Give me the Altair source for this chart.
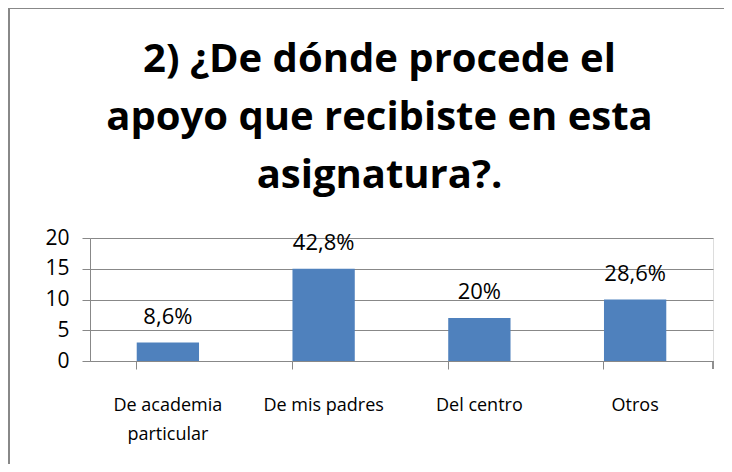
import altair as alt
import pandas as pd

categories = ["De academia particular", "De mis padres", "Del centro", "Otros"]
values = [3, 15, 7, 10]
pct_labels = ["8,6%", "42,8%", "20%", "28,6%"]
title_lines = ["2) ¿De dónde procede el", "apoyo que recibiste en esta", "asignatura?."]
y_ticks = [0, 5, 10, 15, 20]

df = pd.DataFrame({"cat": categories, "val": values, "lab": pct_labels})

FONT = "Open Sans"
W, H = 623, 123

x_enc = alt.X(
    "cat:N",
    sort=categories,
    title=None,
    scale=alt.Scale(paddingInner=0.6, paddingOuter=0.3),
    axis=alt.Axis(
        labelAngle=0,
        labelFont=FONT,
        labelFontSize=18,
        labelColor="#000000",
        labelPadding=27,
        labelLineHeight=29,
        labelBaseline="top",
        labelExpr="datum.label == 'De academia particular' ? ['De academia', 'particular'] : datum.label",
        bandPosition=0,
        tickSize=8,
        tickColor="#888888",
        domainColor="#888888",
        grid=False,
    ),
)

y_enc = alt.Y(
    "val:Q",
    title=None,
    scale=alt.Scale(domain=[0, 20]),
    axis=alt.Axis(
        values=y_ticks,
        tickCount=5,
        labelOverlap=False,
        labelFont=FONT,
        labelFontSize=21,
        labelColor="#000000",
        labelPadding=13,
        tickSize=8,
        tickColor="#888888",
        domainColor="#888888",
        gridColor="#888888",
        gridOpacity=1,
    ),
)

bars = alt.Chart(df).mark_bar(color="#4F81BD").encode(x=x_enc, y=y_enc)

texts = alt.Chart(df).mark_text(
    font=FONT, fontSize=22, color="#000000", baseline="alphabetic", dy=-19
).encode(x=x_enc, y=y_enc, text="lab:N")

end_tick = alt.Chart(df).mark_rule(color="#888888").encode(
    x=alt.value(W), y=alt.value(H), y2=alt.value(H + 8)
)

frame_top = alt.Chart(df).mark_rule(color="#888888", strokeWidth=2).encode(
    x=alt.value(-82), x2=alt.value(W + 40), y=alt.value(-230)
)
frame_left = alt.Chart(df).mark_rule(color="#888888", strokeWidth=2).encode(
    x=alt.value(-81), y=alt.value(-231), y2=alt.value(H + 120)
)

chart = alt.layer(frame_top, frame_left, bars, texts, end_tick).properties(
    width=W,
    height=H,
    padding={"left": 82, "top": 230, "right": 11, "bottom": 103},
    autosize=alt.AutoSizeParams(type="none"),
    title=alt.TitleParams(
        text=title_lines,
        font=FONT,
        fontSize=40,
        fontWeight="bold",
        color="#000000",
        lineHeight=58,
        anchor="middle",
        baseline="bottom",
        dx=-22,
        dy=230,
        offset=0,
    ),
).configure_view(stroke=None).configure(background="white")

chart.save("out.html", embed_options={"renderer": "svg", "actions": False})
